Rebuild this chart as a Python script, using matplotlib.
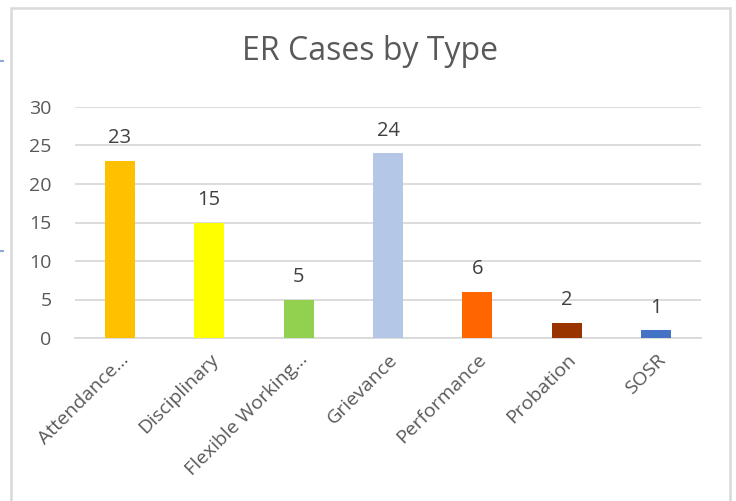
import matplotlib
matplotlib.use("Agg")
import matplotlib.pyplot as plt
from matplotlib.patches import Rectangle
from matplotlib.lines import Line2D

categories = ["Attendance...", "Disciplinary", "Flexible Working...", "Grievance",
              "Performance", "Probation", "SOSR"]
values = [23, 15, 5, 24, 6, 2, 1]
colors = ["#FFC000", "#FFFF00", "#92D050", "#B4C7E7", "#FF6600", "#993300", "#4472C4"]
yticks = [0, 5, 10, 15, 20, 25, 30]
title = "ER Cases by Type"

plt.rcParams['font.family'] = ['Open Sans', 'DejaVu Sans']

W, H = 736, 501
fig = plt.figure(figsize=(W / 100, H / 100), dpi=100)
fig.patch.set_facecolor("white")

# outer chart frame
fig.patches.append(Rectangle((11 / W, -0.05), (730 - 11) / W, 1.05 - 8 / H,
                             transform=fig.transFigure, fill=False,
                             edgecolor="#D9D9D9", linewidth=1.8))
# small blue marks at left edge
for yy in (61, 251):
    fig.lines.append(Line2D([0, 3 / W], [1 - yy / H, 1 - yy / H],
                            transform=fig.transFigure, color="#8EA9DB", linewidth=1.5))

ax = fig.add_axes([75 / W, 1 - 338 / H, (701 - 75) / W, (338 - 107) / H])
x = range(len(categories))
bars = ax.bar(x, values, width=0.335, color=colors, zorder=3)
ax.set_xlim(-0.5, len(categories) - 0.5)
ax.set_ylim(0, 30)
ax.set_yticks(yticks)
ax.set_yticklabels([str(t) for t in yticks], fontsize=14, color="#595959")
ax.grid(axis="y", color="#D9D9D9", linewidth=1.3, zorder=0)
for s in ["top", "right", "left"]:
    ax.spines[s].set_visible(False)
ax.spines["bottom"].set_color("#D9D9D9")
ax.spines["bottom"].set_linewidth(1.3)
ax.tick_params(axis="both", length=0)
ax.tick_params(axis="y", pad=17)
ax.set_xticks(list(x))
ax.set_xticklabels(categories, rotation=45, ha="right", rotation_mode="anchor",
                   fontsize=14, color="#595959")
ax.tick_params(axis="x", pad=9)

for xi, v in zip(x, values):
    ax.annotate(str(v), (xi, v), xytext=(0, 9), textcoords="offset points",
                ha="center", va="bottom", fontsize=14.5, color="#404040")

fig.text(370 / W, 1 - 52 / H, title, ha="center", va="center", fontsize=23,
         color="#595959")

fig.savefig("out.png", dpi=100)
